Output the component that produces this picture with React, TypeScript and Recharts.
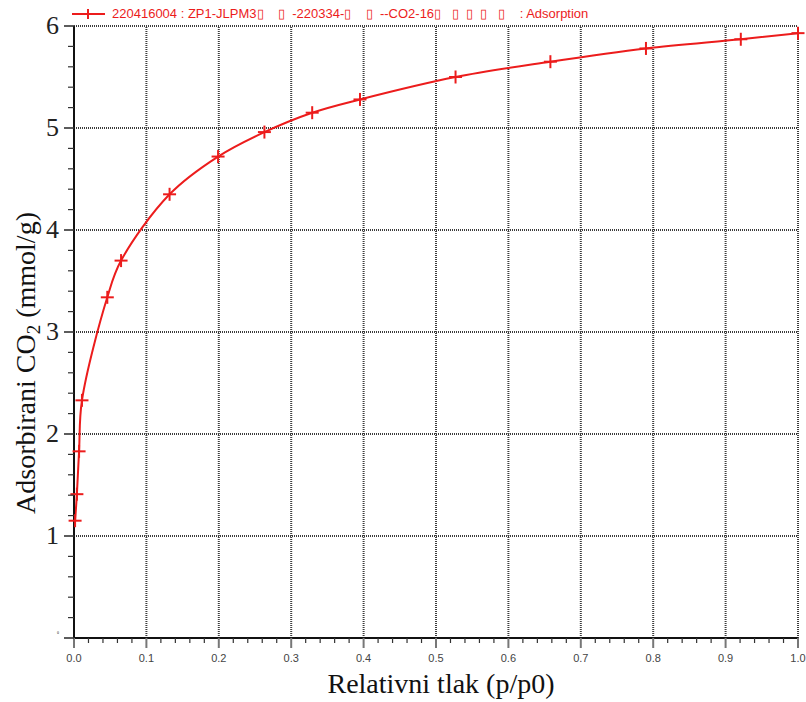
import { LineChart, Line, XAxis, YAxis, ReferenceLine, Label } from "recharts";

// relative pressure p/p0
const pressure = [
  0.0015, 0.004, 0.007, 0.011, 0.046, 0.065, 0.132, 0.199, 0.263, 0.329, 0.395,
  0.527, 0.658, 0.790, 0.921, 1.0,
];
// adsorbed CO2 (mmol/g)
const adsorbed = [
  1.15, 1.41, 1.83, 2.33, 3.34, 3.70, 4.35, 4.72, 4.96, 5.15, 5.28, 5.50, 5.65,
  5.78, 5.87, 5.93,
];

const xMajorTicks = [0, 0.1, 0.2, 0.3, 0.4, 0.5, 0.6, 0.7, 0.8, 0.9, 1.0];
const yMajorTicks = [0, 1, 2, 3, 4, 5, 6];

const legendText =
  "220416004 : ZP1-JLPM3\u25AF    \u25AF  -220334-\u25AF    \u25AF  --CO2-16\u25AF   \u25AF  \u25AF  \u25AF   \u25AF    : Adsorption";

const data = pressure.map((x, i) => ({ x, y: adsorbed[i] }));

// 4 minor ticks between each pair of majors
const subdivide = (majors: number[]) => {
  const out: number[] = [];
  for (let i = 0; i < majors.length - 1; i++) {
    const step = (majors[i + 1] - majors[i]) / 5;
    for (let k = 0; k < 5; k++) out.push(+(majors[i] + step * k).toFixed(4));
  }
  out.push(majors[majors.length - 1]);
  return out;
};
const xTicks = subdivide(xMajorTicks);
const yTicks = subdivide(yMajorTicks);

const isMajor = (v: number, majors: number[]) =>
  majors.some((m) => Math.abs(m - v) < 1e-6);

// centripetal catmull-rom, passed to recharts as a curve factory
const catmullRom = (context: any) => {
  let pts: number[][] = [];
  return {
    areaStart() {},
    areaEnd() {},
    lineStart() {
      pts = [];
    },
    point(x: number, y: number) {
      pts.push([+x, +y]);
    },
    lineEnd() {
      if (!pts.length) return;
      context.moveTo(pts[0][0], pts[0][1]);
      const d = (a: number[], b: number[]) => Math.hypot(b[0] - a[0], b[1] - a[1]);
      for (let i = 0; i < pts.length - 1; i++) {
        const p0 = pts[i - 1] || pts[i];
        const p1 = pts[i];
        const p2 = pts[i + 1];
        const p3 = pts[i + 2] || p2;
        const l01 = Math.sqrt(d(p0, p1));
        const l12 = Math.sqrt(d(p1, p2));
        const l23 = Math.sqrt(d(p2, p3));
        let c1 = [p1[0], p1[1]];
        let c2 = [p2[0], p2[1]];
        if (l01 > 1e-9) {
          const a = 2 * l01 * l01 + 3 * l01 * l12 + l12 * l12;
          const n = 3 * l01 * (l01 + l12);
          c1 = [0, 1].map((k) => (p1[k] * a - p0[k] * l12 * l12 + p2[k] * l01 * l01) / n);
        }
        if (l23 > 1e-9) {
          const b = 2 * l23 * l23 + 3 * l23 * l12 + l12 * l12;
          const m = 3 * l23 * (l23 + l12);
          c2 = [0, 1].map((k) => (p2[k] * b + p1[k] * l23 * l23 - p3[k] * l12 * l12) / m);
        }
        context.bezierCurveTo(c1[0], c1[1], c2[0], c2[1], p2[0], p2[1]);
      }
    },
  };
};

const RED = "#ec1c1c";
const GRID = "#3c3c3c";

const XTick = (props: any) => {
  const { x, y, payload } = props;
  const major = isMajor(payload.value, xMajorTicks);
  return (
    <g>
      <line x1={x} x2={x} y1={y} y2={y + (major ? 10 : 5)} stroke={major ? "#777" : "#333"} strokeWidth={major ? 2 : 1.2} />
      {major && (
        <text x={x} y={y + 24} textAnchor="middle" fontFamily="Liberation Sans, Arial, sans-serif" fontSize={11} fill="#444">
          {payload.value.toFixed(1)}
        </text>
      )}
    </g>
  );
};

const YTick = (props: any) => {
  const { x, y, payload } = props;
  const major = isMajor(payload.value, yMajorTicks);
  const zero = payload.value === 0;
  return (
    <g>
      <line x1={x} x2={x - (major ? 10 : 6)} y1={y} y2={y} stroke="#333" strokeWidth={major ? 1.6 : 1.2} />
      {major && (
        <text
          x={x - 15}
          y={zero ? y - 4 : y + 8}
          textAnchor="end"
          fontFamily="Liberation Serif, Times New Roman, serif"
          fontSize={zero ? 4 : 26}
          fill="#222"
        >
          {payload.value}
        </text>
      )}
    </g>
  );
};

const YLabel = (props: any) => {
  const { viewBox } = props;
  const cx = viewBox.x + 35;
  const cy = viewBox.y + viewBox.height / 2 + 31;
  return (
    <text
      x={cx}
      y={cy}
      transform={`rotate(-90, ${cx}, ${cy})`}
      textAnchor="middle"
      fontFamily="Liberation Serif, Times New Roman, serif"
      fontSize={28}
      fill="#111"
    >
      Adsorbirani CO
      <tspan fontSize={19} dy={5}>2</tspan>
      <tspan dy={-5}> (mmol/g)</tspan>
    </text>
  );
};

const XLabel = (props: any) => {
  const { viewBox } = props;
  const cx = viewBox.x + viewBox.width / 2 + 5;
  const cy = viewBox.y + 55;
  return (
    <text x={cx} y={cy} textAnchor="middle" fontFamily="Liberation Serif, Times New Roman, serif" fontSize={28} fill="#111">
      Relativni tlak (p/p0)
    </text>
  );
};

const PlusDot = (props: any) => {
  const { cx, cy } = props;
  if (cx == null || cy == null) return null;
  return (
    <g>
      <line x1={cx - 6.5} x2={cx + 6.5} y1={cy} y2={cy} stroke={RED} strokeWidth={2} />
      <line x1={cx} x2={cx} y1={cy - 6.5} y2={cy + 6.5} stroke={RED} strokeWidth={2} />
    </g>
  );
};

export default function App() {
  return (
    <div style={{ position: "absolute", left: 0, top: 0, width: 806, height: 702, background: "#fff" }}>
      <div
        style={{
          position: "absolute",
          left: 70,
          top: 6,
          display: "flex",
          alignItems: "center",
          color: RED,
          fontFamily: "Liberation Sans, Arial, sans-serif",
          fontSize: 13,
          whiteSpace: "pre",
        }}
      >
        <svg width={40} height={14}>
          <line x1={2} x2={35} y1={7} y2={7} stroke={RED} strokeWidth={2} />
          <line x1={18} x2={18} y1={2} y2={12} stroke={RED} strokeWidth={2} />
        </svg>
        <span style={{ marginLeft: 2 }}>{legendText}</span>
      </div>
      <LineChart width={806} height={702} data={data} margin={{ top: 26, right: 8, left: 0, bottom: 0 }}>
        <XAxis
          dataKey="x"
          type="number"
          domain={[0, 1]}
          ticks={xTicks}
          interval={0}
          tickSize={0}
          tickMargin={0}
          tickLine={false}
          tick={XTick}
          height={64}
          axisLine={{ stroke: "#111", strokeWidth: 2 }}
        >
          <Label content={XLabel} />
        </XAxis>
        <YAxis
          type="number"
          domain={[0, 6]}
          ticks={yTicks}
          interval={0}
          tickSize={0}
          tickMargin={0}
          tickLine={false}
          tick={YTick}
          width={74}
          axisLine={{ stroke: "#111", strokeWidth: 2 }}
        >
          <Label content={YLabel} />
        </YAxis>
        {xMajorTicks.slice(1).map((v) => (
          <ReferenceLine key={`vx-${v}`} x={v} stroke={GRID} strokeWidth={2} strokeDasharray="1 1" />
        ))}
        {yMajorTicks.slice(1).map((v) => (
          <ReferenceLine key={`hy-${v}`} y={v} stroke={GRID} strokeWidth={2} strokeDasharray="1 1" />
        ))}
        <Line
          type={catmullRom as any}
          dataKey="y"
          stroke={RED}
          strokeWidth={2}
          dot={PlusDot}
          activeDot={false}
          isAnimationActive={false}
        />
      </LineChart>
    </div>
  );
}
